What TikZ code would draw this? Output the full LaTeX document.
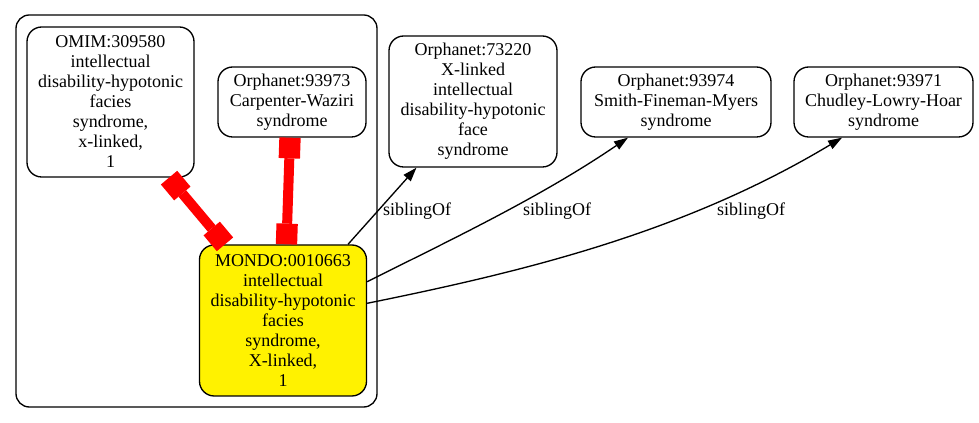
\documentclass[tikz,border=0pt]{standalone}
\usepackage{fontspec}
\setmainfont{Liberation Serif}
\newfontfamily\tmsfont{Liberation Serif}
\usetikzlibrary{arrows.meta}
\begin{document}
\begin{tikzpicture}[x=0.75pt,y=-0.75pt,
  box/.style={draw, line width=1pt, rounded corners=11pt, align=center, inner sep=0pt, font=\tmsfont\fontsize{13.5pt}{15pt}\selectfont},
  lbl/.style={anchor=base, inner sep=0pt, font=\tmsfont\fontsize{13.5pt}{15pt}\selectfont},
  sib/.style={draw, line width=1pt, -{Triangle[length=10.5pt,width=7pt]}},
  redlink/.style={draw=red, line width=7.5pt, {Square[length=15.5pt,width=16pt,line width=0pt]}-{Square[length=15.5pt,width=16pt,line width=0pt]}},
]
\useasboundingbox (0,0) rectangle (979,423);
\node[draw, line width=1pt, rounded corners=10pt, minimum width=270.75pt, minimum height=294pt] (cluster) at (196.5,211) {};
\node[box, minimum width=125.25pt, minimum height=112.5pt] (omim) at (110.5,102) {OMIM:309580\\intellectual\\disability-hypotonic\\facies\\syndrome,\\x-linked,\\1};
\node[box, minimum width=111pt, minimum height=52.5pt] (c93973) at (292,102) {Orphanet:93973\\Carpenter-Waziri\\syndrome};
\node[box, fill=yellow, minimum width=125.25pt, minimum height=113.25pt] (mondo) at (283,320.5) {MONDO:0010663\\intellectual\\disability-hypotonic\\facies\\syndrome,\\X-linked,\\1};
\node[box, minimum width=126pt, minimum height=98.25pt] (o73220) at (473,101.5) {Orphanet:73220\\X-linked\\intellectual\\disability-hypotonic\\face\\syndrome};
\node[box, minimum width=142.5pt, minimum height=52.5pt] (o93974) at (676,102) {Orphanet:93974\\Smith-Fineman-Myers\\syndrome};
\node[box, minimum width=134.25pt, minimum height=52.5pt] (o93971) at (883.5,102) {Orphanet:93971\\Chudley-Lowry-Hoar\\syndrome};
\draw[redlink] ([xshift=43.9pt]omim.south) -- ([xshift=-43.5pt]mondo.north);
\draw[redlink] ([xshift=-1.5pt]c93973.south) -- ([xshift=2.6pt]mondo.north);
\draw[sib] ([xshift=48.75pt]mondo.north) -- ([xshift=-42.4pt]o73220.south);
\draw[sib] ([yshift=29.1pt]mondo.east) .. controls +(87,-43.5) and +(-87,59.2) .. ([xshift=-36pt]o93974.south);
\draw[sib] ([yshift=12.9pt]mondo.east) .. controls +(158,-32) and +(-158,95) .. ([xshift=-31.1pt]o93971.south);
\node[lbl] (s1) at (417,216) {siblingOf};
\node[lbl] (s2) at (557,216) {siblingOf};
\node[lbl] (s3) at (751,216) {siblingOf};
\end{tikzpicture}
\end{document}
